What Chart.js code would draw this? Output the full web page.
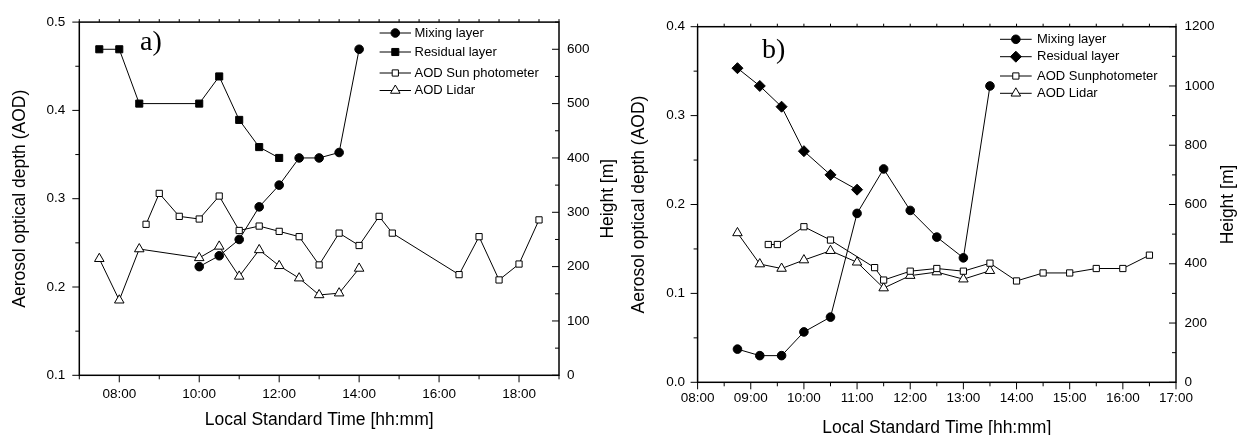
<!DOCTYPE html>
<html><head><meta charset="utf-8">
<script src="https://cdn.jsdelivr.net/npm/chart.js@4.4.1/dist/chart.umd.min.js"></script>
<style>
html,body{margin:0;padding:0;background:#fff;width:1238px;height:435px;overflow:hidden}
canvas{position:absolute;top:0}
#ca{left:0}
#cb{left:620px}
</style></head><body>
<canvas id="ca" width="620" height="435"></canvas>
<canvas id="cb" width="618" height="435"></canvas>
<script>
// ---------- Panel a) ----------
const mixA_t = [10, 10.5, 11, 11.5, 12, 12.5, 13, 13.5, 14];
const mixA_h = [200, 220, 250, 310, 350, 400, 400, 410, 600];
const resA_t = [7.5, 8, 8.5, 10, 10.5, 11, 11.5, 12];
const resA_h = [600, 600, 500, 500, 550, 470, 420, 400];
const sunA_t = [8.67, 9, 9.5, 10, 10.5, 11, 11.5, 12, 12.5, 13, 13.5, 14, 14.5, 14.83, 16.5, 17, 17.5, 18, 18.5];
const sunA_v = [0.271, 0.306, 0.280, 0.277, 0.303, 0.264, 0.269, 0.263, 0.257, 0.225, 0.261, 0.247, 0.280, 0.261, 0.214, 0.257, 0.208, 0.226, 0.276];
const lidA_t = [7.5, 8, 8.5, 10, 10.5, 11, 11.5, 12, 12.5, 13, 13.5, 14];
const lidA_v = [0.232, 0.185, 0.243, 0.233, 0.246, 0.212, 0.242, 0.224, 0.210, 0.191, 0.193, 0.221];
const xTickLabelsA = ['08:00', '10:00', '12:00', '14:00', '16:00', '18:00'];
const yTickLabelsA = ['0.1', '0.2', '0.3', '0.4', '0.5'];
const y2TickLabelsA = ['0', '100', '200', '300', '400', '500', '600'];
const legendA = ['Mixing layer', 'Residual layer', 'AOD Sun photometer', 'AOD Lidar'];

// ---------- Panel b) ----------
const mixB_t = [8.75, 9.17, 9.58, 10, 10.5, 11, 11.5, 12, 12.5, 13, 13.5];
const mixB_h = [112, 90, 90, 170, 220, 570, 720, 580, 490, 420, 1000];
const resB_t = [8.75, 9.17, 9.58, 10, 10.5, 11];
const resB_h = [1060, 1000, 930, 780, 700, 650];
const sunB_t = [9.33, 9.5, 10, 10.5, 11.33, 11.5, 12, 12.5, 13, 13.5, 14, 14.5, 15, 15.5, 16, 16.5];
const sunB_v = [0.155, 0.155, 0.175, 0.160, 0.129, 0.115, 0.125, 0.128, 0.125, 0.134, 0.114, 0.123, 0.123, 0.128, 0.128, 0.143];
const lidB_t = [8.75, 9.17, 9.58, 10, 10.5, 11, 11.5, 12, 12.5, 13, 13.5];
const lidB_v = [0.168, 0.133, 0.128, 0.1375, 0.148, 0.135, 0.106, 0.120, 0.124, 0.116, 0.1255];
const xTickLabelsB = ['08:00', '09:00', '10:00', '11:00', '12:00', '13:00', '14:00', '15:00', '16:00', '17:00'];
const yTickLabelsB = ['0.0', '0.1', '0.2', '0.3', '0.4'];
const y2TickLabelsB = ['0', '200', '400', '600', '800', '1000', '1200'];
const legendB = ['Mixing layer', 'Residual layer', 'AOD Sunphotometer', 'AOD Lidar'];

// ---------- helpers ----------
const FONT = "'Liberation Sans', Arial, Helvetica, sans-serif";
const SERIF = "'Liberation Serif', 'Times New Roman', serif";
const hm = s => { const p = s.split(':'); return +p[0] + (+p[1]) / 60; };
const pts = (xs, ys) => xs.map((x, i) => ({x: x, y: ys[i]}));
const mids = v => v.slice(0, -1).map((a, i) => (a + v[i + 1]) / 2);

function ds(label, data, axis, style, radius, fillCol) {
  return {
    label: label, data: data, yAxisID: axis,
    borderColor: '#000', borderWidth: 1, showLine: true, tension: 0, fill: false,
    pointStyle: style, pointRadius: radius, pointHoverRadius: radius,
    pointBackgroundColor: fillCol, pointBorderColor: '#000', pointBorderWidth: 1,
    clip: false
  };
}

function framePlugin(spec) {
  return {
    id: 'frame_' + spec.name,
    afterDraw(chart) {
      const ctx = chart.ctx, a = chart.chartArea;
      const sx = chart.scales.x, sy = chart.scales.y, s2 = chart.scales.y2;
      const ln = (x1, y1, x2, y2) => { ctx.beginPath(); ctx.moveTo(x1, y1); ctx.lineTo(x2, y2); ctx.stroke(); };
      ctx.save();
      ctx.strokeStyle = '#000';
      ctx.lineWidth = 1;
      // bottom ticks (outward)
      spec.xMajor.forEach(v => { const p = sx.getPixelForValue(v); ln(p, a.bottom, p, a.bottom + 7); });
      spec.xMinor.forEach(v => { const p = sx.getPixelForValue(v); ln(p, a.bottom, p, a.bottom + 4); });
      // top ticks (small, outward)
      spec.xTop.forEach(v => { const p = sx.getPixelForValue(v); ln(p, a.top, p, a.top - 3); });
      // left ticks (outward)
      spec.yMajor.forEach(v => { const p = sy.getPixelForValue(v); ln(a.left - 7, p, a.left, p); });
      spec.yMinor.forEach(v => { const p = sy.getPixelForValue(v); ln(a.left - 4, p, a.left, p); });
      // right ticks (inward)
      spec.y2Major.forEach(v => { const p = s2.getPixelForValue(v); ln(a.right - 7, p, a.right, p); });
      spec.y2Minor.forEach(v => { const p = s2.getPixelForValue(v); ln(a.right - 4, p, a.right, p); });
      // frame
      ctx.lineWidth = 1.5;
      ctx.strokeRect(a.left, a.top, a.right - a.left, a.bottom - a.top);
      // right axis title, reading bottom-to-top
      ctx.save();
      ctx.fillStyle = '#000';
      ctx.font = '17.5px ' + FONT;
      ctx.textAlign = 'center';
      ctx.textBaseline = 'middle';
      ctx.translate(spec.y2TitleX, (a.top + a.bottom) / 2);
      ctx.rotate(-Math.PI / 2);
      ctx.fillText('Height [m]', 0, 0);
      ctx.restore();
      // legend
      ctx.lineWidth = 1;
      ctx.font = '13px ' + FONT;
      ctx.textBaseline = 'middle';
      ctx.textAlign = 'left';
      spec.legend.rows.forEach((y, i) => {
        const d = chart.data.datasets[i];
        const L = spec.legend;
        ctx.strokeStyle = '#000';
        ln(L.x0, y, L.x1, y);
        ctx.fillStyle = d.pointBackgroundColor;
        Chart.helpers.drawPoint(ctx, {pointStyle: d.pointStyle, radius: d.pointRadius, rotation: 0, borderWidth: 1}, (L.x0 + L.x1) / 2, y);
        ctx.fillStyle = '#000';
        ctx.fillText(spec.legend.labels[i], L.tx, y);
      });
      // panel label
      ctx.font = '28px ' + SERIF;
      ctx.textBaseline = 'alphabetic';
      ctx.fillStyle = '#000';
      ctx.fillText(spec.panel.text, spec.panel.x, spec.panel.y);
      ctx.restore();
    }
  };
}

function axisCfg(o) {
  return {
    type: 'linear', position: o.position, min: o.min, max: o.max,
    grid: {display: false, drawTicks: false},
    border: {display: false},
    ticks: {
      color: '#000', font: {family: FONT, size: 13.5}, padding: o.pad,
      autoSkip: false, maxRotation: 0, minRotation: 0,
      callback: (v, i) => o.labels[i]
    },
    afterBuildTicks: s => { s.ticks = o.values.map(v => ({value: v})); },
    afterFit: s => { if (o.width !== undefined) s.width = o.width; if (o.height !== undefined) s.height = o.height; },
    title: {display: !!o.title, text: o.title || '', color: '#000',
      font: {family: FONT, size: 17.5, lineHeight: 1}, padding: o.titlePad || 0}
  };
}

function makeChart(id, p) {
  const xv = p.xLabels.map(hm), yv = p.yLabels.map(parseFloat), y2v = p.y2Labels.map(parseFloat);
  return new Chart(document.getElementById(id), {
    type: 'line',
    data: {datasets: p.datasets},
    options: {
      responsive: false, animation: false, devicePixelRatio: 1,
      layout: {padding: {top: p.top, left: 0, right: 0, bottom: 0}},
      plugins: {legend: {display: false}, tooltip: {enabled: false}},
      scales: {
        x: axisCfg({position: 'bottom', min: p.xmin, max: p.xmax, values: xv, labels: p.xLabels, pad: p.xPad,
          height: p.xHeight, title: 'Local Standard Time [hh:mm]', titlePad: {top: 0, bottom: p.xTitlePad}}),
        y: axisCfg({position: 'left', min: yv[0], max: yv[yv.length - 1], values: yv, labels: p.yLabels, pad: p.yPad,
          width: p.yWidth, title: 'Aerosol optical depth (AOD)', titlePad: {top: p.yTitlePad, bottom: 0}}),
        y2: axisCfg({position: 'right', min: 0, max: p.y2max, values: y2v, labels: p.y2Labels, pad: p.y2Pad,
          width: p.y2Width})
      }
    },
    plugins: [framePlugin({
      name: id,
      xMajor: xv, xMinor: p.xMinor, xTop: p.xTop,
      yMajor: yv, yMinor: mids(yv), y2Major: y2v, y2Minor: p.y2Minor,
      legend: p.legend, panel: p.panel, y2TitleX: p.y2TitleX
    })]
  });
}

makeChart('ca', {
  datasets: [
    ds(legendA[0], pts(mixA_t, mixA_h), 'y2', 'circle', 4.3, '#000'),
    ds(legendA[1], pts(resA_t, resA_h), 'y2', 'rect', 5, '#000'),
    ds(legendA[2], pts(sunA_t, sunA_v), 'y', 'rect', 4.4, '#fff'),
    ds(legendA[3], pts(lidA_t, lidA_v), 'y', 'triangle', 5.5, '#fff')
  ],
  xLabels: xTickLabelsA, yLabels: yTickLabelsA, y2Labels: y2TickLabelsA,
  xmin: 7, xmax: 19, y2max: 650,
  xMinor: [7, 9, 11, 13, 15, 17, 19],
  xTop: [7, 7.5, 8, 8.5, 9, 9.5, 10, 10.5, 11, 11.5, 12, 12.5, 13, 13.5, 14, 14.5, 15, 15.5, 16, 16.5, 17, 17.5, 18, 18.5, 19],
  y2Minor: [50, 150, 250, 350, 450, 550, 650],
  top: 18.3, xHeight: 59.7, yWidth: 79.3, y2Width: 61,
  xPad: 10.5, yPad: 14, y2Pad: 8,
  xTitlePad: 5.6, yTitlePad: 11, y2TitleX: 608,
  legend: {labels: legendA, rows: [33, 52, 73, 90.5], x0: 379.6, x1: 411, tx: 414.5},
  panel: {text: 'a)', x: 140, y: 50}
});

makeChart('cb', {
  datasets: [
    ds(legendB[0], pts(mixB_t, mixB_h), 'y2', 'circle', 4.3, '#000'),
    ds(legendB[1], pts(resB_t, resB_h), 'y2', 'rectRot', 5.5, '#000'),
    ds(legendB[2], pts(sunB_t, sunB_v), 'y', 'rect', 4.4, '#fff'),
    ds(legendB[3], pts(lidB_t, lidB_v), 'y', 'triangle', 5.5, '#fff')
  ],
  xLabels: xTickLabelsB, yLabels: yTickLabelsB, y2Labels: y2TickLabelsB,
  xmin: 8, xmax: 17, y2max: 1200,
  xMinor: [8.5, 9.5, 10.5, 11.5, 12.5, 13.5, 14.5, 15.5, 16.5],
  xTop: [8, 8.5, 9, 9.5, 10, 10.5, 11, 11.5, 12, 12.5, 13, 13.5, 14, 14.5, 15, 15.5, 16, 16.5, 17],
  y2Minor: [100, 300, 500, 700, 900, 1100],
  top: 26.7, xHeight: 52.7, yWidth: 77.6, y2Width: 62,
  xPad: 7.8, yPad: 12.6, y2Pad: 8.5,
  xTitlePad: -2, yTitlePad: 10, y2TitleX: 608.5,
  legend: {labels: legendB, rows: [39.3, 56.7, 76, 93.3], x0: 380, x1: 411.7, tx: 417},
  panel: {text: 'b)', x: 142, y: 58}
});
</script>
</body></html>
